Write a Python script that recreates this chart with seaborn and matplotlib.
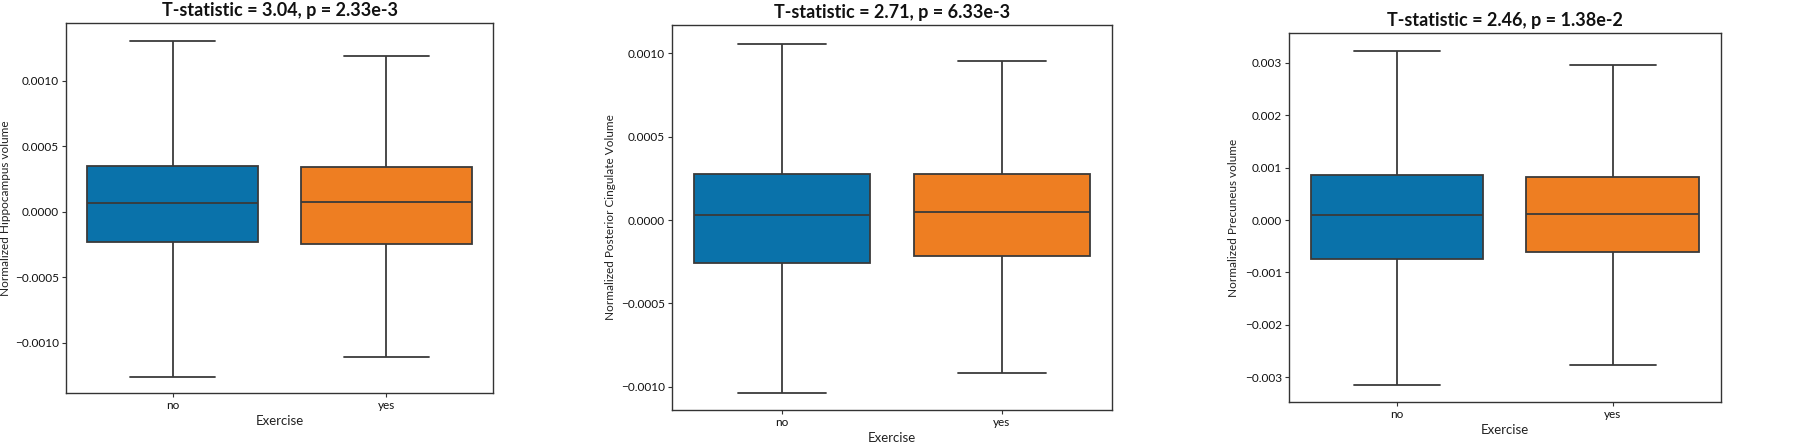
import matplotlib
matplotlib.use("Agg")
import matplotlib.pyplot as plt
import seaborn as sns
import pandas as pd
import numpy as np

# Categories
groups = ["no", "yes"]

# Five-number summaries (min, q1, median, q3, max)
hippo_no = [-0.001262, -0.000229, 0.0000685, 0.000349, 0.001305]
hippo_yes = [-0.001107, -0.000246, 0.000071, 0.000338, 0.00119]
pcc_no = [-0.001036, -0.000258, 0.00003, 0.000274, 0.001058]
pcc_yes = [-0.000918, -0.000214, 0.000048, 0.000274, 0.000952]
prec_no = [-0.003153, -0.000752, 0.0000955, 0.00086, 0.003236]
prec_yes = [-0.002777, -0.000618, 0.000115, 0.000822, 0.002962]

titles = ["T-statistic = 3.04, p = 2.33e-3",
          "T-statistic = 2.71, p = 6.33e-3",
          "T-statistic = 2.46, p = 1.38e-2"]
ylabels = ["Normalized Hippocampus volume",
           "Normalized Posterior Cingulate Volume",
           "Normalized Precuneus volume"]
yticks_list = [[-0.0010, -0.0005, 0.0, 0.0005, 0.0010],
               [-0.0010, -0.0005, 0.0, 0.0005, 0.0010],
               [-0.003, -0.002, -0.001, 0.0, 0.001, 0.002, 0.003]]
ytick_fmt = ["{:.4f}", "{:.4f}", "{:.3f}"]
ylims = [(-0.001384, 0.00144), (-0.00114, 0.00117), (-0.003471, 0.003567)]

colors = ["#0a72aa", "#ee7e22"]

sns.set_theme(style="white")
plt.rcParams["font.family"] = ["Lato", "DejaVu Sans"]

fig = plt.figure(figsize=(18.08, 4.48), dpi=100)
positions = [
    [0.0365, 0.1228, 0.2362, 0.8259],
    [0.3715, 0.0848, 0.2435, 0.8594],
    [0.7130, 0.1033, 0.2387, 0.8224],
]
ylabel_x = [-0.128, -0.126, -0.116]
data_pairs = [(hippo_no, hippo_yes), (pcc_no, pcc_yes), (prec_no, prec_yes)]


def fmt_tick(v, f):
    s = f.format(abs(v))
    return ("\u2212" + s) if v < 0 else s


for i, (d_no, d_yes) in enumerate(data_pairs):
    ax = fig.add_axes(positions[i])
    df = pd.DataFrame({
        "Exercise": [groups[0]] * len(d_no) + [groups[1]] * len(d_yes),
        "value": list(d_no) + list(d_yes),
    })
    sns.boxplot(data=df, x="Exercise", y="value", hue="Exercise",
                order=groups, hue_order=groups, palette=colors,
                whis=(0, 100), width=0.8, saturation=1, legend=False,
                linecolor="#3a3a3a", linewidth=1.3, ax=ax)
    ax.set_ylim(*ylims[i])
    ax.set_xlim(-0.5, 1.5)
    yt = yticks_list[i]
    ax.set_yticks(yt)
    ax.set_yticklabels([fmt_tick(v, ytick_fmt[i]) for v in yt])
    ax.set_title(titles[i], fontsize=13, fontweight="bold", pad=5, color="#111111")
    ax.set_ylabel(ylabels[i], fontsize=8.5, color="#222222")
    ax.yaxis.set_label_coords(ylabel_x[i], 0.5)
    ax.set_xlabel("Exercise", fontsize=9.5, labelpad=3, color="#222222")
    ax.tick_params(axis="both", labelsize=8.5, length=3, width=0.8, color="#333333",
                   labelcolor="#111111", left=True, bottom=True, pad=2)
    for sp in ax.spines.values():
        sp.set_color("#333333")
        sp.set_linewidth(1.0)

fig.savefig("out.png", dpi=100)
